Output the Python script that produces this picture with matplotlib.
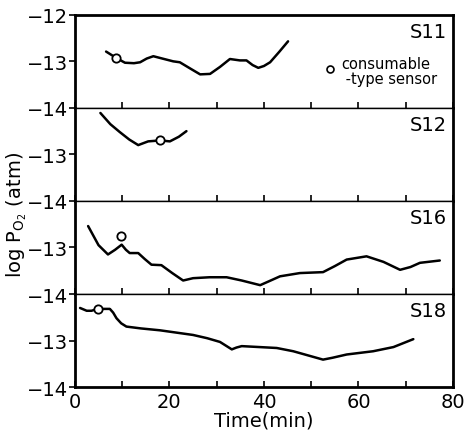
import matplotlib
matplotlib.use("Agg")
import matplotlib.pyplot as plt

# sensor traces, time (min) vs log PO2 (atm)
s11_t = [6.6, 8.8, 10.6, 12.5, 13.8, 15.2, 16.6, 18.5, 20.8, 22.2, 24.5, 26.5, 28.6, 30.7, 32.8, 34.9, 36.3, 37.6, 38.8, 40.0, 41.3, 43.2, 45.1]
s11_v = [-12.79, -12.93, -13.03, -13.04, -13.02, -12.94, -12.89, -12.94, -13.0, -13.02, -13.16, -13.28, -13.27, -13.12, -12.95, -12.98, -12.98, -13.08, -13.14, -13.10, -13.02, -12.80, -12.57]
s12_t = [5.4, 7.5, 9.5, 11.5, 13.4, 15.5, 18.0, 20.1, 22.0, 23.6]
s12_v = [-12.11, -12.35, -12.52, -12.68, -12.80, -12.72, -12.70, -12.72, -12.62, -12.50]
s16_t = [2.8, 5.0, 7.0, 8.5, 9.9, 10.8, 11.6, 13.4, 14.8, 16.2, 18.3, 20.6, 22.9, 25.0, 28.5, 32.1, 35.3, 39.2, 41.2, 43.4, 47.6, 52.5, 55.0, 57.5, 61.7, 65.3, 68.8, 71.0, 73.0, 77.2]
s16_v = [-12.54, -12.95, -13.15, -13.05, -12.94, -13.05, -13.12, -13.12, -13.25, -13.37, -13.38, -13.55, -13.71, -13.66, -13.64, -13.64, -13.71, -13.81, -13.72, -13.62, -13.55, -13.53, -13.40, -13.26, -13.19, -13.31, -13.48, -13.42, -13.33, -13.28]
s18_t = [1.1, 2.5, 3.5, 4.9, 7.4, 8.1, 8.8, 9.8, 10.9, 14.0, 18.0, 25.0, 28.0, 30.7, 33.2, 34.2, 35.3, 42.7, 46.2, 52.5, 54.5, 57.5, 63.1, 67.4, 71.6]
s18_v = [-12.30, -12.36, -12.36, -12.32, -12.32, -12.40, -12.52, -12.63, -12.70, -12.74, -12.78, -12.88, -12.95, -13.03, -13.19, -13.15, -13.12, -13.16, -13.23, -13.41, -13.37, -13.30, -13.23, -13.14, -12.97]

# consumable-type sensor points
circ_t = [8.8, 18.0, 9.7, 4.9]
circ_v = [-12.93, -12.70, -12.75, -12.32]

names = ["S11", "S12", "S16", "S18"]
times = [s11_t, s12_t, s16_t, s18_t]
vals = [s11_v, s12_v, s16_v, s18_v]

plt.rcParams['font.family'] = 'DejaVu Sans'
fig = plt.figure(figsize=(4.68, 4.39), dpi=100)
axes = fig.subplots(4, 1, sharex=True, gridspec_kw={'hspace': 0})
fig.subplots_adjust(left=0.160, right=0.968, bottom=0.116, top=0.964)

for i, ax in enumerate(axes):
    ax.plot(times[i], vals[i], color='black', lw=1.8, solid_capstyle='round', solid_joinstyle='round')
    ax.plot(circ_t[i], circ_v[i], 'o', ms=6, mfc='white', mec='black', mew=1.3, zorder=3)
    ax.set_ylim(-14, -12)
    ax.set_xlim(0, 80)
    if i == 0:
        ax.set_yticks([-14, -13, -12])
    else:
        ax.set_yticks([-14, -13])
    ax.set_yticklabels([f"\u2212{-int(v)}" for v in ax.get_yticks()])
    ax.tick_params(axis='y', direction='out', length=4, width=1.2, labelsize=14, pad=1)
    ax.tick_params(axis='x', direction='in', length=4, width=1.2, labelsize=14)
    ax.text(0.985, 0.92, names[i], transform=ax.transAxes, ha='right', va='top', fontsize=14)
    for side in ['left', 'right']:
        ax.spines[side].set_linewidth(2)
    ax.spines['top'].set_linewidth(2 if i == 0 else 1.0)
    ax.spines['bottom'].set_linewidth(2 if i == 3 else 1.0)

ax0 = axes[0]
ax0.plot([0.675], [0.42], 'o', transform=ax0.transAxes, ms=5, mfc='white', mec='black', mew=1.2)
ax0.text(0.705, 0.40, "consumable\n -type sensor", transform=ax0.transAxes, ha='left', va='center',
         fontsize=10.5, linespacing=1.0)

axes[3].set_xticks(range(0, 81, 10))
axes[3].set_xticklabels([str(v) if v % 20 == 0 else "" for v in range(0, 81, 10)])
axes[3].set_xlabel("Time(min)", fontsize=14, labelpad=0)
fig.text(0.035, 0.51, r"log P$_{\mathrm{O_2}}$ (atm)", rotation=90, ha='center', va='center', fontsize=14)

fig.savefig("out.png", dpi=100)
